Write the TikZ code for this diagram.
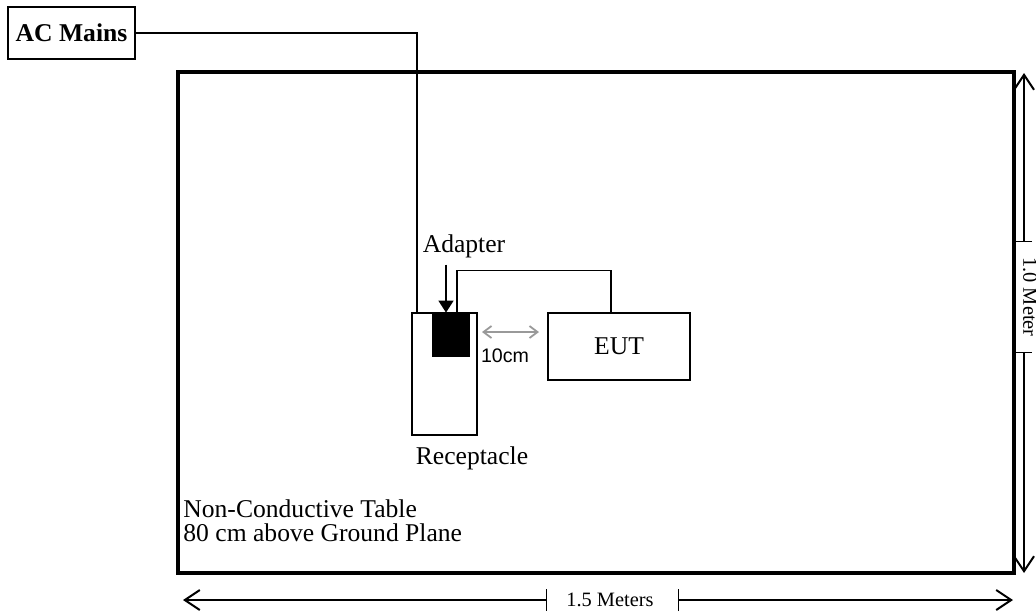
\documentclass[tikz,border=0pt]{standalone}
\usepackage{fontspec}
\setmainfont{Liberation Serif}
\newfontfamily\labelsans{Liberation Sans}
\usetikzlibrary{arrows.meta, calc}
\tikzset{barb/.tip={Straight Barb[length=7.5pt, width=10pt, line width=1pt]},
  smallbarb/.tip={Straight Barb[length=4pt, width=6pt]}}

\begin{document}
\begin{tikzpicture}[x=0.5pt, y=-0.5pt,
  every node/.style={inner sep=0pt, font=\fontsize{12.8}{12}\selectfont},
  box/.style={draw, line width=1pt},
  wire/.style={line width=0.8pt},
  dimline/.style={line width=0.6pt},
  dimtext/.style={font=\fontsize{10.2}{10}\selectfont}]
  \useasboundingbox (0,0) rectangle (1036,612);
  % --- table -------------------------------------------------------
  \node[draw, line width=1.6pt, minimum width=418pt, minimum height=250.5pt] (table) at (596,322.5) {};
  \node[align=left, anchor=west] (tbllbl) at (183,521) {Non-Conductive Table\\80 cm above Ground Plane};
  % --- mains and receptacle ----------------------------------------
  \node[box, minimum width=63.5pt, minimum height=26pt, font=\fontsize{12.8}{12}\selectfont\bfseries] (ac) at (71.5,33) {AC Mains};
  \node[box, minimum width=32.5pt, minimum height=61pt] (rec) at (444.5,374) {};
  \node (reclbl) at (472,458) {Receptacle};
  \draw[wire] (ac.east) -| ($(rec.north west)+(6,0)$);
  % --- adapter -----------------------------------------------------
  \node[fill=black, minimum width=19pt, minimum height=22pt] (adp) at (451,335) {};
  \node (adplbl) at (464,246) {Adapter};
  \draw[wire, -{Triangle[length=6pt, width=7.5pt]}] ($(adp.north)+(-5,-48)$) -- ($(adp.north)+(-5,0)$);
  % --- EUT ---------------------------------------------------------
  \node[box, minimum width=71pt, minimum height=33.5pt] (eut) at (619,346.5) {EUT};
  \draw[wire] ($(adp.north)+(6,0)$) -- ++(0,-42) -| ($(eut.north)+(-8,0)$);
  % spacing
  \draw[gray!80, line width=0.9pt, {smallbarb}-{smallbarb}] ($(rec.north east)+(4,20)$) -- ($(eut.north west)+(-8,20)$);
  \node[font=\fontsize{9.8}{10}\labelsans] (gap) at (505,356) {10cm};
  % --- dimensions --------------------------------------------------
  \coordinate (wl) at (183,600);
  \coordinate (wr) at (1013,600);
  \node[dimtext] (wlbl) at (610,600) {1.5 Meters};
  \draw[dimline, {barb}-{Bar[width=11pt]}] (wl) -- (547,600);
  \draw[dimline, {Bar[width=11pt]}-{barb}] (678,600) -- (wr);
  \coordinate (ht) at (1024,73);
  \coordinate (hb) at (1024,573);
  \node[dimtext, rotate=-90] (hlbl) at (1030,297) {1.0 Meter};
  \draw[dimline, {barb}-{Bar[width=8pt]}] (ht) -- (1024,242);
  \draw[dimline, {Bar[width=8pt]}-{barb}] (1024,352) -- (hb);
\end{tikzpicture}
\end{document}
